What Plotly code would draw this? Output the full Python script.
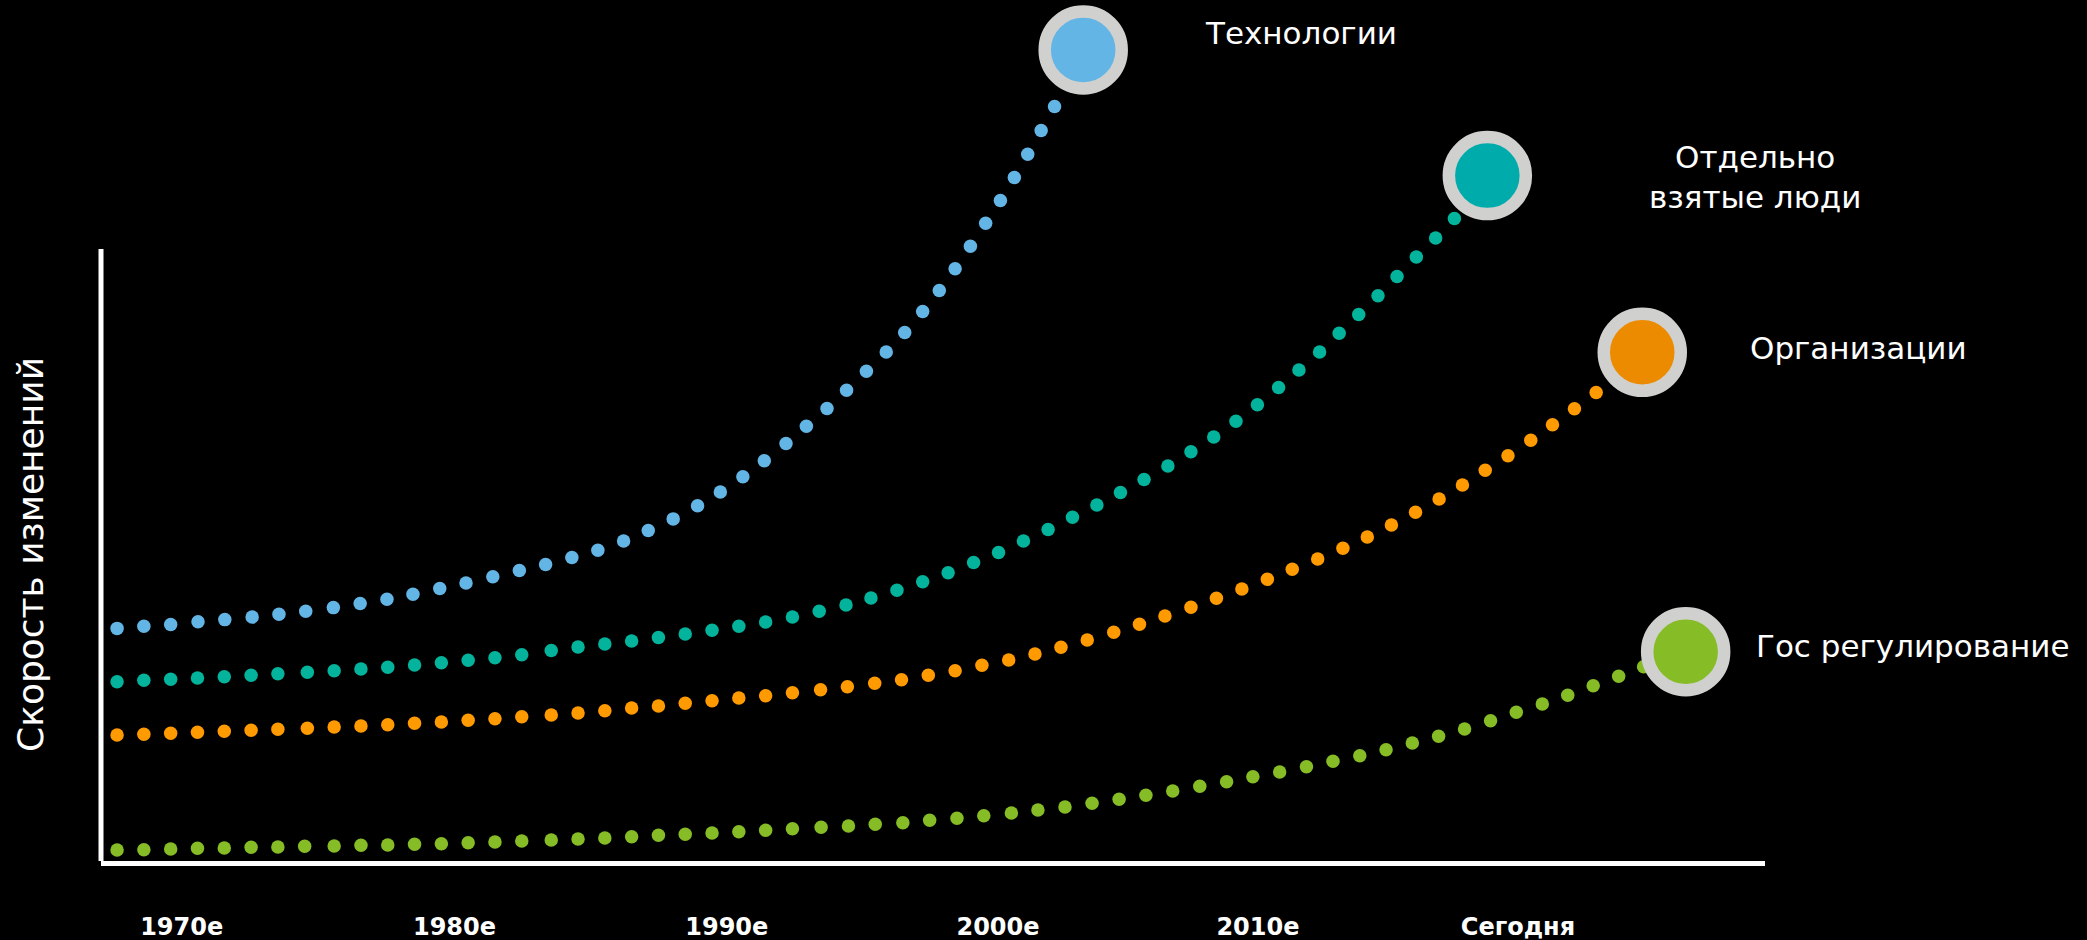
import plotly.graph_objects as go

# --- data -----------------------------------------------------------------
series_names = ["Технологии", "Отдельно<br>взятые люди", "Организации", "Гос регулирование"]

tech_x = [1970.0, 1971.0, 1972.0, 1973.02, 1974.02, 1975.04, 1976.04, 1977.04, 1978.07, 1979.07,
          1980.07, 1981.04, 1982.04, 1983.02, 1984.02, 1985.01, 1985.99, 1986.97, 1987.94, 1988.90,
          1989.82, 1990.75, 1991.66, 1992.51, 1993.35, 1994.15, 1994.96, 1995.72, 1996.49, 1997.22,
          1997.96, 1998.70, 1999.39, 2000.06, 2000.68, 2001.27, 2001.84, 2002.41, 2002.96, 2003.48,
          2003.98, 2004.48, 2004.98]
tech_y = [38.77, 39.13, 39.43, 39.87, 40.23, 40.65, 41.13, 41.62, 42.23, 42.90,
          43.62, 44.47, 45.43, 46.35, 47.38, 48.42, 49.43, 50.58, 51.80, 53.32,
          55.08, 57.02, 59.20, 61.50, 64.05, 66.72, 69.57, 72.47, 75.43, 78.47,
          81.62, 84.83, 88.10, 91.57, 95.08, 98.72, 102.47, 106.28, 110.10, 113.92,
          117.80, 121.75, 125.75]

people_x = [1970.0, 1971.0, 1972.0, 1973.0, 1974.0, 1975.0, 1976.0, 1977.1, 1978.1, 1979.1,
            1980.1, 1981.1, 1982.1, 1983.1, 1984.1, 1985.1, 1986.2, 1987.2, 1988.2, 1989.2,
            1990.2, 1991.2, 1992.2, 1993.2, 1994.2, 1995.2, 1996.2, 1997.2, 1998.13, 1999.10,
            2000.06, 2001.01, 2001.96, 2002.89, 2003.82, 2004.74, 2005.65, 2006.56, 2007.44, 2008.32,
            2009.21, 2010.07, 2010.92, 2011.75, 2012.55, 2013.34, 2014.10, 2014.87, 2015.60, 2016.33,
            2017.05, 2017.76, 2018.48, 2019.20, 2019.90]
people_y = [29.88, 30.12, 30.28, 30.50, 30.72, 30.95, 31.22, 31.45, 31.72, 32.00,
            32.28, 32.67, 33.05, 33.45, 33.88, 34.38, 35.08, 35.67, 36.17, 36.67,
            37.25, 37.83, 38.47, 39.13, 39.83, 40.67, 41.62, 42.67, 43.83, 45.13,
            46.53, 48.05, 49.75, 51.43, 53.33, 55.25, 57.28, 59.33, 61.43, 63.60,
            65.83, 68.20, 70.68, 73.30, 76.05, 78.92, 81.85, 84.85, 87.97, 91.10,
            94.22, 97.42, 100.67, 103.85, 107.10]

org_x = [1970.0, 1971.0, 1972.0, 1973.0, 1974.0, 1975.0, 1976.0, 1977.1, 1978.1, 1979.1,
         1980.1, 1981.1, 1982.1, 1983.1, 1984.1, 1985.1, 1986.2, 1987.2, 1988.2, 1989.2,
         1990.2, 1991.2, 1992.2, 1993.2, 1994.2, 1995.2, 1996.25, 1997.25, 1998.27, 1999.27,
         2000.27, 2001.27, 2002.27, 2003.27, 2004.25, 2005.22, 2006.20, 2007.19, 2008.15, 2009.10,
         2010.07, 2011.02, 2011.97, 2012.92, 2013.85, 2014.80, 2015.74, 2016.65, 2017.55, 2018.45,
         2019.33, 2020.20, 2021.05, 2021.90, 2022.75, 2023.56, 2024.38, 2025.19]
org_y = [21.00, 21.12, 21.28, 21.45, 21.62, 21.78, 21.95, 22.12, 22.33, 22.50,
         22.72, 22.95, 23.17, 23.45, 23.72, 24.05, 24.33, 24.67, 25.05, 25.50,
         25.83, 26.28, 26.72, 27.17, 27.55, 28.05, 28.55, 29.05, 29.62, 30.22,
         30.95, 31.72, 32.62, 33.50, 34.50, 35.62, 36.83, 38.12, 39.45, 40.83,
         42.28, 43.78, 45.33, 46.95, 48.62, 50.33, 52.12, 54.00, 56.00, 58.12,
         60.33, 62.67, 65.12, 67.55, 70.12, 72.72, 75.38, 78.10]

gov_x = [1970.0, 1971.0, 1972.0, 1973.0, 1974.0, 1975.0, 1976.0, 1977.0, 1978.1, 1979.1,
         1980.1, 1981.1, 1982.1, 1983.1, 1984.1, 1985.1, 1986.2, 1987.2, 1988.2, 1989.2,
         1990.2, 1991.2, 1992.2, 1993.2, 1994.2, 1995.2, 1996.27, 1997.29, 1998.29, 1999.32,
         2000.32, 2001.34, 2002.34, 2003.37, 2004.36, 2005.37, 2006.38, 2007.39, 2008.39, 2009.39,
         2010.40, 2011.40, 2012.38, 2013.38, 2014.38, 2015.37, 2016.37, 2017.35, 2018.33, 2019.31,
         2020.28, 2021.25, 2022.21, 2023.18, 2024.13, 2025.08, 2026.03, 2026.96]
gov_y = [1.83, 1.88, 2.00, 2.12, 2.17, 2.28, 2.33, 2.45, 2.50, 2.62,
         2.67, 2.78, 2.88, 3.05, 3.17, 3.33, 3.50, 3.67, 3.83, 4.05,
         4.28, 4.45, 4.67, 4.88, 5.12, 5.38, 5.62, 5.83, 6.12, 6.38,
         6.78, 7.12, 7.55, 8.00, 8.50, 9.00, 9.62, 10.28, 10.95, 11.67,
         12.45, 13.22, 14.05, 14.83, 15.72, 16.62, 17.55, 18.55, 19.67, 20.78,
         22.00, 23.38, 24.78, 26.17, 27.62, 29.22, 30.78, 32.38]

# end point of each trajectory (large ringed marker)
end_x = [2006.05, 2021.13, 2026.91, 2028.53]
end_y = [135.17, 114.23, 84.78, 34.88]

tick_vals = [1972.41, 1982.59, 1992.75, 2002.87, 2012.57, 2022.27]
tick_text = ["1970e", "1980e", "1990e", "2000e", "2010e", "Сегодня"]

y_title = "Скорость изменений"
y_axis_top = 102      # the vertical axis line stops here
y_view_max = 143.5    # headroom above the axis for the steep curves

# --- styling ----------------------------------------------------------------
dot_colors = ["#62B5E5", "#03B39B", "#FF9A00", "#86BC25"]
end_colors = ["#62B5E5", "#00ABAB", "#ED8B00", "#86BC25"]
ring_color = "#D0D0CE"
label_font = dict(family="DejaVu Sans", size=31, color="white")

fig = go.Figure()

for xs, ys, col in zip([tech_x, people_x, org_x, gov_x],
                       [tech_y, people_y, org_y, gov_y], dot_colors):
    fig.add_trace(go.Scatter(
        x=xs, y=ys, mode="markers", cliponaxis=False, showlegend=False,
        marker=dict(size=13.5, color=col, line=dict(width=0)),
        hoverinfo="skip"))

fig.add_trace(go.Scatter(
    x=end_x, y=end_y, mode="markers", cliponaxis=False, showlegend=False,
    marker=dict(size=77, color=end_colors, line=dict(width=12.5, color=ring_color)),
    hoverinfo="skip"))

# series labels next to the end markers
label_offsets = [
    dict(xanchor="left", xshift=120, yshift=17, align="left"),
    dict(xanchor="center", xshift=268, yshift=-1, align="center"),
    dict(xanchor="left", xshift=106, yshift=4, align="left"),
    dict(xanchor="left", xshift=68, yshift=6, align="left"),
]
for name, ex, ey, off in zip(series_names, end_x, end_y, label_offsets):
    fig.add_annotation(x=ex, y=ey, xref="x", yref="y", text=name, showarrow=False,
                       yanchor="middle", font=label_font, **off)

# vertical axis title, centred on the axis line
fig.add_annotation(x=0, y=y_axis_top / 2, xref="paper", yref="y", text=y_title,
                   showarrow=False, textangle=-90, xanchor="center", yanchor="middle",
                   xshift=-71, font=dict(family="DejaVu Sans", size=36, color="white"))

# vertical axis line (shorter than the plotting area)
fig.add_shape(type="line", xref="paper", yref="y", x0=0, x1=0, y0=-0.85, y1=y_axis_top,
              line=dict(color="white", width=5), layer="above")

fig.update_layout(
    width=2087, height=940,
    margin=dict(l=101, r=322, t=0, b=79),
    paper_bgcolor="black", plot_bgcolor="black",
    xaxis=dict(range=[1969.40, 2031.49], showgrid=False, zeroline=False, automargin=False,
               showline=True, linecolor="white", linewidth=5,
               tickmode="array", tickvals=tick_vals, ticktext=tick_text,
               ticks="", ticklabelstandoff=40,
               tickfont=dict(family="DejaVu Sans", size=24, color="white", weight="bold")),
    yaxis=dict(range=[0, y_view_max], showgrid=False, zeroline=False, automargin=False,
               showline=False, showticklabels=False, ticks=""),
)

fig.write_html("out.html")
